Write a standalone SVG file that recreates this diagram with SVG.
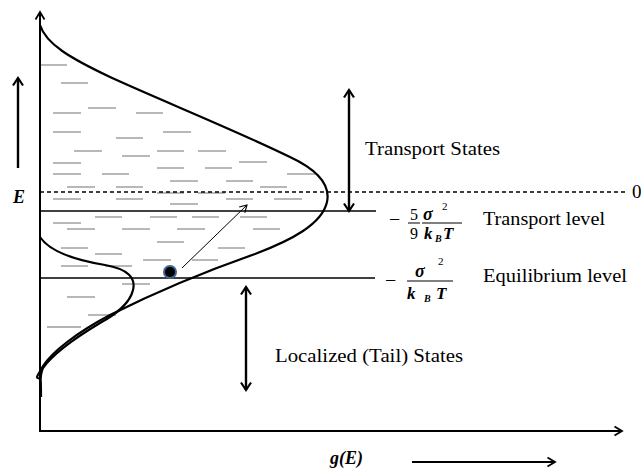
<svg xmlns="http://www.w3.org/2000/svg" width="641" height="472" viewBox="0 0 641 472">
<style>
.ax{stroke:#000;stroke-width:2;fill:none}
.cv{stroke:#000;stroke-width:2.2;fill:none;stroke-linejoin:round}
.lv{stroke:#000;stroke-width:1.3;fill:none}
.dl{stroke:#000;stroke-width:1.3;stroke-dasharray:4 3;fill:none}
.ds line{stroke:#9a9a9a;stroke-width:1.4}
.ar{stroke:#000;stroke-width:2.4;fill:none}
.bar{stroke:#000;stroke-width:1}
</style>
<defs>
<marker id="ah" viewBox="-10 -7 12 14" markerWidth="12" markerHeight="14" refX="0" refY="0" orient="auto-start-reverse" markerUnits="userSpaceOnUse" overflow="visible"><path d="M-7.5,-5 L0,0 L-7.5,5" fill="none" stroke="#000" stroke-width="2.2"/></marker>
<marker id="ahs" viewBox="-10 -7 12 14" markerWidth="12" markerHeight="14" refX="0" refY="0" orient="auto" markerUnits="userSpaceOnUse" overflow="visible"><path d="M-7.5,-4.5 L0,0 L-7.5,4.5" fill="none" stroke="#000" stroke-width="1.8"/></marker>
<marker id="aht" viewBox="-10 -7 12 14" markerWidth="12" markerHeight="14" refX="0" refY="0" orient="auto" markerUnits="userSpaceOnUse" overflow="visible"><path d="M-7,-4 L0,0 L-7,4" fill="none" stroke="#000" stroke-width="1.1"/></marker>
</defs>
<rect width="641" height="472" fill="#fff"/>
<g id="dashes" class="ds">
<line x1="40" y1="65" x2="67" y2="65"/>
<line x1="61" y1="83" x2="88" y2="83"/>
<line x1="88" y1="108" x2="116" y2="108"/>
<line x1="53" y1="113" x2="81" y2="113"/><line x1="136" y1="113" x2="163" y2="113"/>
<line x1="53" y1="132" x2="81" y2="132"/><line x1="163" y1="132" x2="191" y2="132"/>
<line x1="116" y1="138" x2="143" y2="138"/>
<line x1="74" y1="151" x2="102" y2="151"/><line x1="157" y1="151" x2="184" y2="151"/><line x1="198" y1="151" x2="226" y2="151"/>
<line x1="122" y1="156" x2="150" y2="156"/>
<line x1="239" y1="162" x2="267" y2="162"/>
<line x1="53" y1="163" x2="81" y2="163"/>
<line x1="157" y1="168" x2="184" y2="168"/><line x1="205" y1="168" x2="232" y2="168"/>
<line x1="53" y1="174" x2="81" y2="174"/><line x1="102" y1="174" x2="129" y2="174"/><line x1="287" y1="174" x2="315" y2="174"/>
<line x1="170" y1="181" x2="198" y2="181"/><line x1="226" y1="181" x2="253" y2="181"/>
<line x1="67" y1="187" x2="95" y2="187"/><line x1="116" y1="187" x2="143" y2="187"/><line x1="260" y1="187" x2="287" y2="187"/>
<line x1="157" y1="193" x2="184" y2="193"/><line x1="198" y1="193" x2="225" y2="193"/>
<line x1="53" y1="199" x2="81" y2="199"/><line x1="116" y1="199" x2="143" y2="199"/><line x1="226" y1="199" x2="253" y2="199"/><line x1="274" y1="199" x2="302" y2="199"/>
<line x1="170" y1="204" x2="198" y2="204"/>
<line x1="95" y1="217" x2="122" y2="217"/><line x1="150" y1="217" x2="177" y2="217"/><line x1="192" y1="217" x2="219" y2="217"/><line x1="240" y1="217" x2="267" y2="217"/>
<line x1="53" y1="223" x2="81" y2="223"/>
<line x1="67" y1="229" x2="95" y2="229"/><line x1="122" y1="229" x2="150" y2="229"/><line x1="177" y1="229" x2="205" y2="229"/><line x1="253" y1="229" x2="280" y2="229"/>
<line x1="157" y1="242" x2="184" y2="242"/>
<line x1="61" y1="248" x2="88" y2="248"/><line x1="218" y1="248" x2="245" y2="248"/>
<line x1="95" y1="254" x2="122" y2="254"/>
<line x1="143" y1="260" x2="171" y2="260"/><line x1="192" y1="260" x2="218" y2="260"/>
<line x1="61" y1="266" x2="88" y2="266"/><line x1="105" y1="266" x2="132" y2="266"/>
<line x1="122" y1="284" x2="150" y2="284"/>
<line x1="67" y1="297" x2="95" y2="297"/>
<line x1="88" y1="315" x2="116" y2="315"/>
<line x1="47" y1="327" x2="81" y2="327"/>
</g>
<g id="levels">
<line class="dl" x1="40" y1="192" x2="627" y2="192"/>
<line class="lv" x1="40" y1="211" x2="376" y2="211"/>
<line class="lv" x1="40" y1="278" x2="375" y2="278"/>
</g>
<g id="axes">
<path class="ax" d="M40,13 L40,431 L622,431" marker-end="url(#ahs)"/>
<path class="ax" d="M40,432 L40,12" marker-end="url(#ahs)"/>
</g>
<g id="curves">
<path id="dos-main" class="cv" d="M40,25 C46,44 70,58 110,77 C160,100 235,130 290,157 C322,172 330,188 327,202 C322,224 292,240 255,254 C215,268 160,290 110,315 C76,333 52,352 43,366 C40,372 35,378 38,378 C41,378 41,382 41,397"/>
<path id="dos-tail" class="cv" d="M40,237 C50,252 75,260 105,265 C128,269 136,278 133,290 C130,303 115,315 100,323 C75,338 52,355 43,368 C40,374 40,385 41,397"/>
</g>
<g id="particle">
<circle cx="170" cy="272" r="6" fill="#000" stroke="#3d6491" stroke-width="2"/>
</g>
<g id="connectors">
<line class="ar" x1="18" y1="168" x2="18" y2="78" marker-end="url(#ah)"/>
<line class="ar" x1="349" y1="211" x2="349" y2="90" marker-start="url(#ah)" marker-end="url(#ah)"/>
<line class="ar" x1="246" y1="390" x2="246" y2="287" marker-start="url(#ah)" marker-end="url(#ah)"/>
<line class="ax" x1="412" y1="462" x2="555" y2="462" marker-end="url(#ahs)"/>
<line stroke="#000" stroke-width="1" x1="182" y1="268" x2="247" y2="205" marker-end="url(#aht)"/>
</g>
<g id="labels" font-family="'Liberation Serif', 'Times New Roman', serif" font-size="19" fill="#000">
<text x="13" y="203" font-size="18" font-weight="bold" font-style="italic">E</text>
<text x="365" y="155" textLength="135" lengthAdjust="spacingAndGlyphs">Transport States</text>
<text x="632" y="198">0</text>
<text x="483" y="225" textLength="122" lengthAdjust="spacingAndGlyphs">Transport level</text>
<text x="483" y="282" textLength="144" lengthAdjust="spacingAndGlyphs">Equilibrium level</text>
<text x="275" y="362" textLength="188" lengthAdjust="spacingAndGlyphs">Localized (Tail) States</text>
<text x="330" y="464" font-size="18" font-weight="bold" font-style="italic">g(E)</text>
</g>
<g id="formula-transport" font-family="'Liberation Serif', 'Times New Roman', serif" font-size="16" fill="#000">
<text x="389" y="226" font-size="20">−</text>
<text x="410" y="220">5</text>
<line class="bar" x1="408" y1="223" x2="420" y2="223"/>
<text x="410" y="239">9</text>
<text x="423" y="220" font-size="18" font-weight="bold" font-style="italic">σ</text>
<text x="442" y="210" font-size="11">2</text>
<line class="bar" x1="422" y1="223" x2="462" y2="223"/>
<text x="424" y="239" font-size="17" font-weight="bold" font-style="italic">k</text>
<text x="435" y="242" font-size="10" font-weight="bold" font-style="italic">B</text>
<text x="443" y="239" font-size="17" font-weight="bold" font-style="italic">T</text>
</g>
<g id="formula-equilibrium" font-family="'Liberation Serif', 'Times New Roman', serif" font-size="16" fill="#000">
<text x="385" y="287" font-size="20">−</text>
<text x="415" y="277" font-size="18" font-weight="bold" font-style="italic">σ</text>
<text x="438" y="265" font-size="11">2</text>
<line class="bar" x1="407" y1="281" x2="453" y2="281"/>
<text x="407" y="299" font-size="17" font-weight="bold" font-style="italic">k</text>
<text x="424" y="302" font-size="10" font-weight="bold" font-style="italic">B</text>
<text x="436" y="299" font-size="17" font-weight="bold" font-style="italic">T</text>
</g>
</svg>
